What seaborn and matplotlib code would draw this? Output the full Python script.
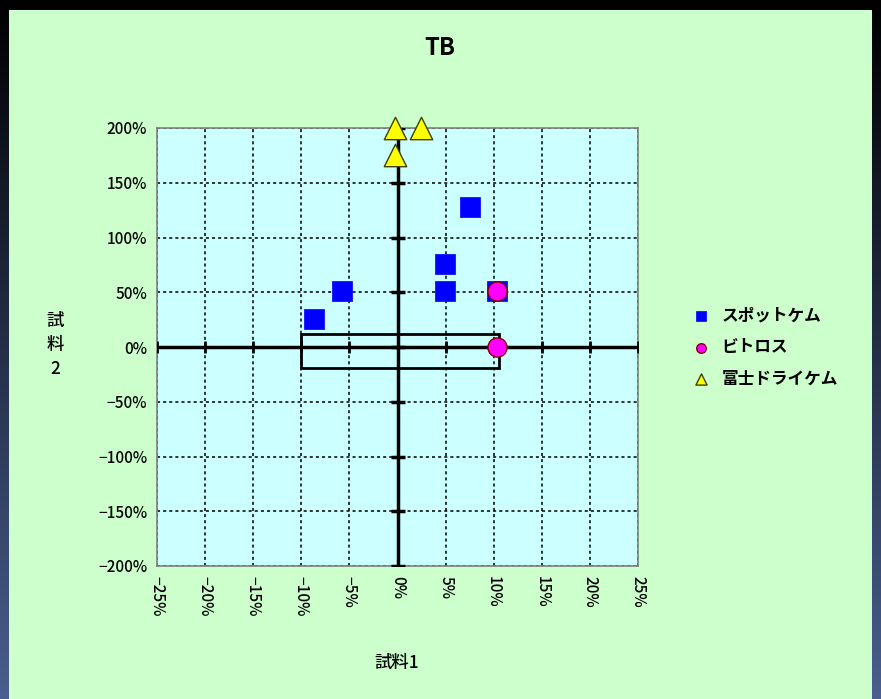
import numpy as np
import pandas as pd
import matplotlib
matplotlib.use("Agg")
import matplotlib.pyplot as plt
from matplotlib.patches import Rectangle
import seaborn as sns

# data (x: 試料1 %, y: 試料2 %)
spot_x = [-8.7, -5.8, 4.9, 4.9, 7.5, 10.3]
spot_y = [26, 51, 76, 51, 128, 51]
vitros_x = [10.3, 10.3]
vitros_y = [51, 0]
fuji_x = [-0.3, 2.4, -0.3]
fuji_y = [200, 200, 175]

x_ticks = [-25, -20, -15, -10, -5, 0, 5, 10, 15, 20, 25]
y_ticks = [-200, -150, -100, -50, 0, 50, 100, 150, 200]
box_x = [-10, 10.6]
box_y = [-19, 12]

sns.set_theme(style="white")
plt.rcParams['font.family'] = ['Noto Sans CJK JP', 'DejaVu Sans']
plt.rcParams['text.color'] = 'black'
plt.rcParams['xtick.color'] = 'black'
plt.rcParams['ytick.color'] = 'black'
plt.rcParams['font.weight'] = 'medium'


def pct(v):
    return f"{v}%".replace("-", "\u2212")


fig = plt.figure(figsize=(8.81, 6.99), dpi=100)

# dark frame with gradient, then green panel
bg = fig.add_axes([0, 0, 1, 1], zorder=-10)
grad = np.linspace(0, 1, 256).reshape(-1, 1)
cmap = matplotlib.colors.LinearSegmentedColormap.from_list("frame", ["#000000", "#4a5f8e"])
bg.imshow(grad, aspect="auto", cmap=cmap, extent=[0, 1, 0, 1], origin="upper")
bg.add_patch(Rectangle((9 / 881, 0), (872 - 9) / 881, 1 - 10 / 699,
                       facecolor="#ccffcc", edgecolor="none", transform=bg.transAxes))
bg.set_axis_off()

ax = fig.add_axes([157 / 881, (699 - 566) / 699, 481 / 881, 438 / 699])
ax.set_facecolor("#ccffff")
for s in ax.spines.values():
    s.set_color("#808080")
    s.set_linewidth(1.2)

ax.set_xlim(x_ticks[0], x_ticks[-1])
ax.set_ylim(y_ticks[0], y_ticks[-1])
ax.set_xticks(x_ticks)
ax.set_yticks(y_ticks)
ax.set_xticklabels([pct(v) for v in x_ticks], rotation=-90, fontsize=11)
ax.set_yticklabels([pct(v) for v in y_ticks], fontsize=11)
ax.tick_params(length=0, pad=7)
ax.grid(True, color="black", linestyle=(0, (2, 2)), linewidth=1.1)

# axes through the origin with cross ticks
ax.axhline(0, color="black", lw=2.5, zorder=3)
ax.axvline(0, color="black", lw=2.5, zorder=3)
ax.plot([0] * len(y_ticks), y_ticks, ls="none", marker="_", ms=10, mew=2.5, color="black", zorder=3)
ax.plot(x_ticks, [0] * len(x_ticks), ls="none", marker="|", ms=9, mew=2.0, color="black", zorder=3)

ax.add_patch(Rectangle((box_x[0], box_y[0]), box_x[1] - box_x[0], box_y[1] - box_y[0],
                       fill=False, edgecolor="black", lw=2, zorder=4))

sns.scatterplot(x=spot_x, y=spot_y, ax=ax, marker="s", s=210, color="#0000ff",
                edgecolor="#0000ff", linewidth=0.5, label="スポットケム", zorder=5, clip_on=False)
sns.scatterplot(x=vitros_x, y=vitros_y, ax=ax, marker="o", s=190, color="#ff00ff",
                edgecolor="#800000", linewidth=1.0, label="ビトロス", zorder=6, clip_on=False)
sns.scatterplot(x=fuji_x, y=fuji_y, ax=ax, marker="^", s=260, color="#ffff00",
                edgecolor="#404000", linewidth=1.0, label="富士ドライケム", zorder=7, clip_on=False)

ax.set_xlabel("")
ax.set_ylabel("")
ax.legend(loc="center left", bbox_to_anchor=(1.08, 0.5), frameon=False, markerscale=0.5,
          prop={'size': 12, 'weight': 'bold'}, handletextpad=0.2, labelspacing=0.8, borderpad=0)

fig.text(440 / 881, 1 - 48 / 699, "TB", ha="center", va="center", fontsize=17, fontweight="bold")
fig.text(397 / 881, 1 - 663 / 699, "試料1", ha="center", va="center", fontsize=12.5)
fig.text(55 / 881, 1 - 345 / 699, "試\n料\n2", ha="center", va="center", fontsize=12.5, linespacing=1.4)

fig.savefig("out.png", dpi=100)
plt.close(fig)
